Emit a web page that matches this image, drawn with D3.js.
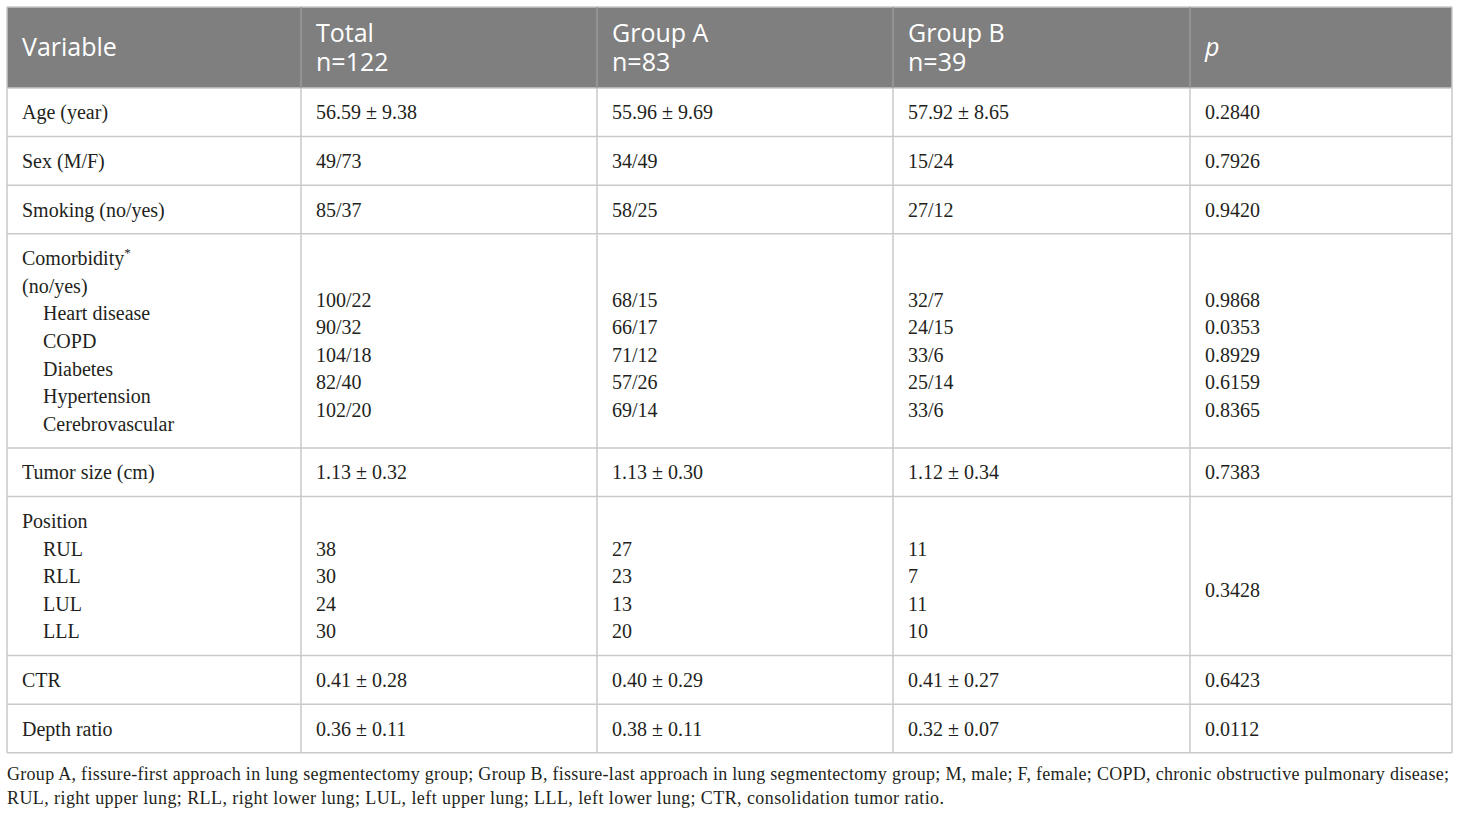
<!DOCTYPE html>
<html>
<head>
<meta charset="utf-8">
<script src="https://cdn.jsdelivr.net/npm/d3@7"></script>
<style>
  body { margin: 0; background: #fff; }
  svg text { fill: #231f20; }
</style>
</head>
<body>
<svg id="chart" width="1460" height="814"></svg>
<script>
// header
const headers = [["Variable"], ["Total", "n=122"], ["Group A", "n=83"], ["Group B", "n=39"], ["p"]];

// single-line rows
const variables = ["Age (year)", "Sex (M/F)", "Smoking (no/yes)"];
const totals = ["56.59 ± 9.38", "49/73", "85/37"];
const groupA = ["55.96 ± 9.69", "34/49", "58/25"];
const groupB = ["57.92 ± 8.65", "15/24", "27/12"];
const pValues = ["0.2840", "0.7926", "0.9420"];

// comorbidity block
const comorbidities = ["Heart disease", "COPD", "Diabetes", "Hypertension", "Cerebrovascular"];
const comorbTotal = ["100/22", "90/32", "104/18", "82/40", "102/20"];
const comorbA = ["68/15", "66/17", "71/12", "57/26", "69/14"];
const comorbB = ["32/7", "24/15", "33/6", "25/14", "33/6"];
const comorbP = ["0.9868", "0.0353", "0.8929", "0.6159", "0.8365"];

// tumor size
const tumorRow = ["Tumor size (cm)", "1.13 ± 0.32", "1.13 ± 0.30", "1.12 ± 0.34", "0.7383"];

// position block
const positions = ["RUL", "RLL", "LUL", "LLL"];
const posTotal = ["38", "30", "24", "30"];
const posA = ["27", "23", "13", "20"];
const posB = ["11", "7", "11", "10"];
const posP = "0.3428";

// last rows
const ctrRow = ["CTR", "0.41 ± 0.28", "0.40 ± 0.29", "0.41 ± 0.27", "0.6423"];
const depthRow = ["Depth ratio", "0.36 ± 0.11", "0.38 ± 0.11", "0.32 ± 0.07", "0.0112"];

const footnotes = [
  "Group A, fissure-first approach in lung segmentectomy group; Group B, fissure-last approach in lung segmentectomy group; M, male; F, female; COPD, chronic obstructive pulmonary disease;",
  "RUL, right upper lung; RLL, right lower lung; LUL, left upper lung; LLL, left lower lung; CTR, consolidation tumor ratio."
];

// ---- build rows: each cell is a list of lines
const L = (t, indent) => ({ t, indent: !!indent });
const rows = [];
variables.forEach((v, i) => rows.push([[L(v)], [L(totals[i])], [L(groupA[i])], [L(groupB[i])], [L(pValues[i])]]));
rows.push([
  [{ t: "Comorbidity", sup: "*" }, L("(no/yes)")].concat(comorbidities.map(c => L(c, true))),
  [L("")].concat(comorbTotal.map(v => L(v))),
  [L("")].concat(comorbA.map(v => L(v))),
  [L("")].concat(comorbB.map(v => L(v))),
  [L("")].concat(comorbP.map(v => L(v)))
]);
rows.push(tumorRow.map(v => [L(v)]));
rows.push([
  [L("Position")].concat(positions.map(p => L(p, true))),
  [L("")].concat(posTotal.map(v => L(v))),
  [L("")].concat(posA.map(v => L(v))),
  [L("")].concat(posB.map(v => L(v))),
  [L(""), L(posP)]
]);
rows.push(ctrRow.map(v => [L(v)]));
rows.push(depthRow.map(v => [L(v)]));

// ---- layout
const colWidths = [294, 296, 296, 297, 262];
const tableLeft = 7, tableTop = 7, headerH = 81;
const lineH = 27.6, rowPad = 21, cellPadX = 15, indentX = 21;
const colX = [tableLeft, ...Array.from(d3.cumsum(colWidths), d => d + tableLeft)];
const tableRight = colX[colX.length - 1];

const rowHeights = rows.map(r => d3.max(r, c => c.length) * lineH + rowPad);
const rowY = [tableTop + headerH, ...Array.from(d3.cumsum(rowHeights), d => d + tableTop + headerH)];
const tableBottom = rowY[rowY.length - 1];

const svg = d3.select("#chart");
const lineColor = "#c9c9c9";

// header background
svg.append("rect")
  .attr("x", tableLeft).attr("y", tableTop)
  .attr("width", tableRight - tableLeft).attr("height", headerH)
  .attr("fill", "#7f7f7f");

// header text (one text per cell, lines as tspans)
const headerG = svg.append("g").attr("font-family", "'Open Sans', sans-serif").attr("font-size", 25);
const headLH = 29;
headers.forEach((lines, ci) => {
  const cy = tableTop + headerH / 2;
  const x = colX[ci] + cellPadX;
  const txt = headerG.append("text")
    .attr("x", x)
    .attr("y", cy - (lines.length - 1) / 2 * headLH)
    .attr("dy", "0.35em")
    .style("fill", "#fff")
    .attr("font-style", lines[0] === "p" ? "italic" : null);
  lines.forEach((t, li) => {
    txt.append("tspan")
      .attr("x", x)
      .attr("dy", li === 0 ? null : headLH)
      .style("fill", "#fff")
      .text(t);
  });
});

// grid lines
const grid = svg.append("g").attr("stroke", lineColor).attr("stroke-width", 1.5).attr("fill", "none");
rowY.forEach(y => {
  grid.append("line").attr("x1", tableLeft).attr("x2", tableRight).attr("y1", y).attr("y2", y);
});
colX.forEach((x, i) => {
  grid.append("line").attr("x1", x).attr("x2", x)
    .attr("y1", (i === 0 || i === colX.length - 1) ? tableTop : tableTop + headerH)
    .attr("y2", tableBottom);
});
// header internal separators (lighter on gray)
colX.slice(1, -1).forEach(x => {
  svg.append("line").attr("x1", x).attr("x2", x).attr("y1", tableTop).attr("y2", tableTop + headerH)
    .attr("stroke", "#9a9a9a").attr("stroke-width", 1.5);
});
grid.append("line").attr("x1", tableLeft).attr("x2", tableRight).attr("y1", tableTop).attr("y2", tableTop);

// body text
const body = svg.append("g").attr("font-family", "'Liberation Serif', 'Times New Roman', serif").attr("font-size", 20);
rows.forEach((row, ri) => {
  const cy = rowY[ri] + rowHeights[ri] / 2;
  row.forEach((cell, ci) => {
    cell.forEach((ln, li) => {
      if (!ln.t) return;
      const txt = body.append("text")
        .attr("x", colX[ci] + cellPadX + (ln.indent ? indentX : 0))
        .attr("y", cy + (li - (cell.length - 1) / 2) * lineH)
        .attr("dy", "0.35em")
        .text(ln.t);
      if (ln.sup) {
        txt.append("tspan").attr("font-size", 13).attr("dy", "-0.6em").text(ln.sup);
      }
    });
  });
});

// footnotes
const foot = svg.append("g").attr("font-family", "'Liberation Serif', 'Times New Roman', serif").attr("font-size", 18);
const footWidths = [1442, 937];
footnotes.forEach((t, i) => {
  foot.append("text")
    .attr("x", tableLeft)
    .attr("y", 774 + i * 24)
    .attr("dy", "0.35em")
    .attr("textLength", footWidths[i])
    .attr("lengthAdjust", "spacing")
    .text(t);
});
</script>
</body>
</html>
